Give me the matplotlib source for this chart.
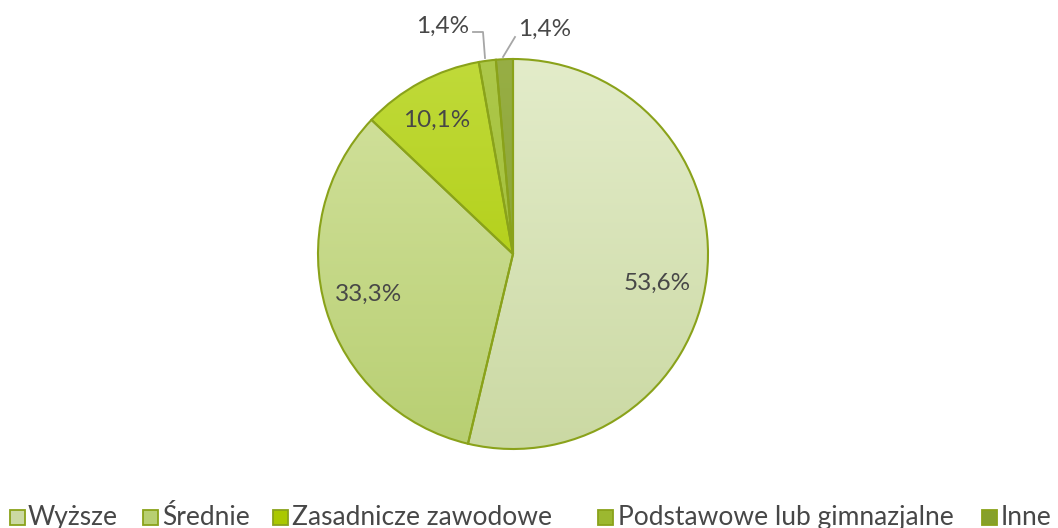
import matplotlib.pyplot as plt
import numpy as np
from matplotlib.colors import LinearSegmentedColormap

categories = ['Wyższe', 'Średnie', 'Zasadnicze zawodowe', 'Podstawowe lub gimnazjalne', 'Inne']
values = [53.6, 33.3, 10.1, 1.4, 1.4]
labels = ['53,6%', '33,3%', '10,1%', '1,4%', '1,4%']

top_colors = ['#e3ecca', '#d3e29f', '#c0da3a', '#adc84a', '#97ae45']
bottom_colors = ['#cbd9a3', '#b8cf72', '#aac800', '#9cb830', '#86a02a']
edge = '#8aa21a'
text_color = '#474747'

plt.rcParams['font.family'] = ['Lato', 'DejaVu Sans']

W, H = 1058, 528
fig = plt.figure(figsize=(W / 100, H / 100), dpi=100)
cx, cy, r = 513, 254, 195
ax = fig.add_axes([(cx - r) / W, (H - cy - r) / H, 2 * r / W, 2 * r / H])

wedges, _ = ax.pie(values, startangle=90, counterclock=False, radius=1,
                   colors=bottom_colors,
                   wedgeprops=dict(edgecolor=edge, linewidth=1.5))

# vertical gradient inside each wedge
grad = np.linspace(0, 1, 256).reshape(-1, 1)
for w, c0, c1 in zip(wedges, top_colors, bottom_colors):
    cmap = LinearSegmentedColormap.from_list('g', [c1, c0])
    im = ax.imshow(grad, cmap=cmap, extent=[-1, 1, -1, 1], origin='lower',
                   aspect='auto', zorder=w.get_zorder() - 0.1)
    im.set_clip_path(w)
    w.set_facecolor('none')

ax.set_xlim(-1, 1)
ax.set_ylim(-1, 1)
ax.axis('off')


def px(x, y):
    # pixel position in the picture -> data coords of the pie axes
    return (x - cx) / r, (cy - y) / r


# label positions (pixels) as Excel placed them
label_pos = [(657, 283), (369, 294), (437, 120), (443, 26), (545, 29)]
for lab, (lx, ly) in zip(labels, label_pos):
    ax.text(*px(lx, ly), lab, ha='center', va='center', fontsize=17.5,
            color=text_color, clip_on=False)

# leader lines for the two thin slices
for path in [[(485, 58), (483, 32), (473, 32)], [(503, 57), (515, 37)]]:
    xs, ys = zip(*[px(x, y) for x, y in path])
    ax.plot(xs, ys, color='#a6a6a6', lw=1.3, clip_on=False)

# legend row along the bottom
marker_x = [10, 143, 273, 598, 982]
text_x = [28, 162, 292, 618, 1001]
for mx, tx, cat, c0, c1 in zip(marker_x, text_x, categories, top_colors, bottom_colors):
    fig.patches.append(plt.Rectangle((mx / W, (H - 525) / H), 15 / W, 15 / H,
                                     transform=fig.transFigure, facecolor=c1,
                                     edgecolor=edge, lw=1.3))
    fig.text(tx / W, (H - 525) / H, cat, ha='left', va='baseline',
             fontsize=19, color=text_color)

fig.savefig('out.png', dpi=100)
